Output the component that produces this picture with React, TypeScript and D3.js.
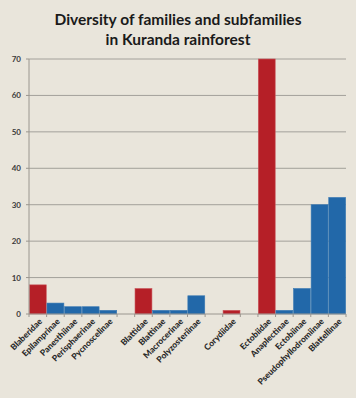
import React from "react";
import * as d3 from "d3";

const categories = [
  "Blaberidae", "Epilamprinae", "Panesthiinae", "Perisphaerinae", "Pycnoscelinae", "",
  "Blattidae", "Blattinae", "Macrocerinae", "Polyzosteriinae", " ",
  "Corydiidae", "  ",
  "Ectobiidae", "Anaplectinae", "Ectobiinae", "Pseudophyllodromiinae", "Blattellinae",
];
const values: (number | null)[] = [
  8, 3, 2, 2, 1, null,
  7, 1, 1, 5, null,
  1, null,
  70, 1, 7, 30, 32,
];
const isFamily = [
  true, false, false, false, false, false,
  true, false, false, false, false,
  true, false,
  true, false, false, false, false,
];
const yTicks = [0, 10, 20, 30, 40, 50, 60, 70];

const W = 356, H = 398;
const left = 29, right = 346, top = 59, bottom = 314;
const RED = "#b51f27", BLUE = "#2268a9", BG = "#e9e5db";

export default function App() {
  const x = d3.scaleBand<string>().domain(categories).range([left, right]).paddingInner(0.04).paddingOuter(0.02);
  const step = (right - left) / categories.length;
  const y = d3.scaleLinear().domain([0, 70]).range([bottom, top]);
  return (
    <svg width={W} height={H} style={{ position: "absolute", left: 0, top: 0, background: BG }}>
      <rect x={0} y={0} width={W} height={H} fill={BG} />
      <text x={178} y={25} textAnchor="middle" fontFamily="Lato" fontWeight={700} fontSize={15.5} fill="#1a1a1a">
        Diversity of families and subfamilies
      </text>
      <text x={178} y={45} textAnchor="middle" fontFamily="Lato" fontWeight={700} fontSize={15.5} fill="#1a1a1a">
        in Kuranda rainforest
      </text>
      {yTicks.map((t) => (
        <g key={t}>
          {t > 0 && <line x1={left} x2={right} y1={y(t)} y2={y(t)} stroke="#a3a09a" strokeWidth={1} />}
          <line x1={left - 3} x2={left} y1={y(t)} y2={y(t)} stroke="#9a968f" />
          <text x={21} y={y(t) + 3} textAnchor="end" fontFamily="Lato" fontWeight={700} fontSize={8} fill="#3a3a3a">
            {t}
          </text>
        </g>
      ))}
      {categories.map((c, i) =>
        values[i] == null ? null : (
          <rect key={c} x={x(c)!} width={x.bandwidth()} y={y(values[i] as number)}
            height={bottom - y(values[i] as number)}
            fill={isFamily[i] ? RED : BLUE} stroke={isFamily[i] ? "#c9575c" : "#3b7ab3"} strokeWidth={0.6} />
        )
      )}
      <line x1={left} x2={left} y1={top} y2={bottom} stroke="#9a968f" />
      <line x1={left} x2={right} y1={bottom} y2={bottom} stroke="#9a968f" />
      {d3.range(categories.length + 1).map((i) => (
        <line key={i} x1={left + i * step} x2={left + i * step} y1={bottom} y2={bottom + 3} stroke="#9a968f" />
      ))}
      {categories.map((c, i) =>
        c.trim() === "" ? null : (
          <text key={"l" + i} transform={`translate(${x(c)! + x.bandwidth() / 2 + 5},${bottom + 8}) rotate(-45)`}
            textAnchor="end" fontFamily="Lato" fontWeight={900} fontSize={8.5} fill="#2a2a2a">
            {c}
          </text>
        )
      )}
    </svg>
  );
}
